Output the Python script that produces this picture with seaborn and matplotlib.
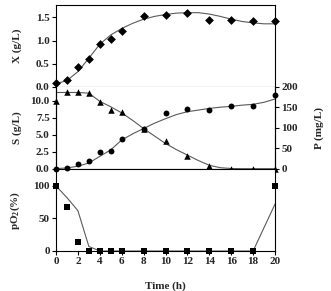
import numpy as np
import pandas as pd
import matplotlib
matplotlib.use("Agg")
import matplotlib.pyplot as plt
import seaborn as sns

# ---- dados ----
t_pts = [0, 1, 2, 3, 4, 5, 6, 8, 10, 12, 14, 16, 18, 20]
x_pts = [0.09, 0.14, 0.44, 0.61, 0.93, 1.04, 1.21, 1.53, 1.56, 1.59, 1.44, 1.44, 1.43, 1.43]
s_pts = [10.0, 11.2, 11.2, 11.1, 9.8, 8.6, 8.3, 5.9, 4.0, 1.9, 0.35, 0.0, 0.0, 0.0]
p_pts = [0, 1.5, 10.5, 18, 40, 42, 73, 98, 136, 146, 144, 152, 154, 180]
o2_pts = [100, 67, 14, 0, 0, 0, 0, 0, 0, 0, 0, 0, 0, 100]

t_mod = list(range(0, 21))
x_mod = [0.07, 0.14, 0.33, 0.62, 0.92, 1.12, 1.26, 1.37, 1.46, 1.52, 1.56,
         1.59, 1.60, 1.60, 1.57, 1.52, 1.46, 1.41, 1.38, 1.36, 1.36]
s_mod = [11.2, 11.2, 11.2, 11.1, 9.9, 9.1, 8.2, 7.1, 5.9, 4.8, 3.7,
         2.8, 2.0, 1.2, 0.5, 0.15, 0.03, 0.0, 0.0, 0.0, 0.0]
p_mod = [0, 2, 6, 14, 30, 46, 70, 85, 98, 111, 122,
         132, 139, 143, 147, 150, 152, 155, 157, 162, 170]
o2_mod = [100, 82, 62, 7, 0, 0, 0, 0, 0, 0, 0,
          0, 0, 0, 0, 0, 0, 0, 0, 36, 72]

sns.set_theme(style="ticks")
plt.rcParams['font.family'] = ['Liberation Serif', 'DejaVu Serif']
plt.rcParams['font.weight'] = 'bold'
plt.rcParams['axes.labelweight'] = 'bold'
plt.rcParams['mathtext.fontset'] = 'custom'
plt.rcParams['mathtext.rm'] = 'Liberation Serif:bold'
plt.rcParams['mathtext.bf'] = 'Liberation Serif:bold'
plt.rcParams['mathtext.it'] = 'Liberation Serif:bold'

pts = pd.DataFrame({'t': t_pts, 'X': x_pts, 'S': s_pts, 'P': p_pts, 'O2': o2_pts})
mod = pd.DataFrame({'t': t_mod, 'X': x_mod, 'S': s_mod, 'P': p_mod, 'O2': o2_mod})

fig = plt.figure(figsize=(3.31, 2.91), dpi=100)
L, W = 56 / 331, 219 / 331
H = 82 / 291
ax1 = fig.add_axes([L, 1 - 87 / 291, W, H])
ax2 = fig.add_axes([L, 1 - 168.7 / 291, W, H])
ax3 = fig.add_axes([L, 1 - 251 / 291, W, H])
ax2b = ax2.twinx()

COR_LINHA = '#5a5a5a'
fs = 8

def estilo(ax):
    ax.set_xlim(0, 20)
    ax.tick_params(axis='both', labelsize=fs, length=3, width=0.8, pad=1.5, color='black')
    for s in ax.spines.values():
        s.set_linewidth(0.8)
        s.set_color('black')
    for lab in ax.get_xticklabels() + ax.get_yticklabels():
        lab.set_fontweight('bold')

# painel X
sns.lineplot(data=mod, x='t', y='X', ax=ax1, color=COR_LINHA, lw=0.8)
sns.scatterplot(data=pts, x='t', y='X', ax=ax1, marker='D', color='black', s=20, edgecolor='black', linewidth=0, zorder=3, clip_on=False)
ax1.set_ylim(0, 1.765)
ax1.set_yticks([0, 0.5, 1.0, 1.5])
ax1.set_yticklabels(['0.0', '0.5', '1.0', '1.5'])
ax1.set_xticks([])
ax1.set_xlabel('')
ax1.set_ylabel('X (g/L)', fontsize=fs, fontweight='bold')

# painel S / P
sns.lineplot(data=mod, x='t', y='S', ax=ax2, color=COR_LINHA, lw=0.8)
sns.scatterplot(data=pts, x='t', y='S', ax=ax2, marker='^', color='black', s=22, linewidth=0, zorder=3, clip_on=False)
sns.lineplot(data=mod, x='t', y='P', ax=ax2b, color=COR_LINHA, lw=0.8)
sns.scatterplot(data=pts, x='t', y='P', ax=ax2b, marker='o', color='black', s=18, linewidth=0, zorder=3, clip_on=False)
ax2.set_ylim(0, 12.05)
ax2.set_yticks([0, 2.5, 5, 7.5, 10])
ax2.set_yticklabels(['0.0', '2.5', '5.0', '7.5', '10.0'])
ax2b.set_ylim(0, 200)
ax2b.set_yticks([0, 50, 100, 150, 200])
ax2.set_xticks([])
ax2.set_xlabel('')
ax2b.set_xlabel('')
ax2.set_ylabel('S (g/L)', fontsize=fs, fontweight='bold')
ax2b.set_ylabel('P (mg/L)', fontsize=fs, fontweight='bold', labelpad=12)
ax2.spines['top'].set_visible(False)
ax2b.spines['top'].set_visible(False)

# painel pO2
sns.lineplot(data=mod, x='t', y='O2', ax=ax3, color=COR_LINHA, lw=0.8)
sns.scatterplot(data=pts, x='t', y='O2', ax=ax3, marker='s', color='black', s=20, linewidth=0, zorder=3, clip_on=False)
ax3.set_ylim(0, 126)
ax3.set_yticks([0, 50, 100])
ax3.set_xticks(range(0, 21, 2))
ax3.set_ylabel('pO$_2$(%)', fontsize=fs, fontweight='bold')
ax3.set_xlabel('Time (h)', fontsize=fs, fontweight='bold', labelpad=11)
ax3.spines['top'].set_visible(False)

for ax in (ax1, ax2, ax2b, ax3):
    estilo(ax)
ax1.spines['right'].set_visible(True)
ax3.spines['right'].set_visible(True)
for ax in (ax1, ax2, ax3):
    ax.yaxis.set_label_coords(-0.155, 0.5)

fig.savefig('out.png', dpi=100)
